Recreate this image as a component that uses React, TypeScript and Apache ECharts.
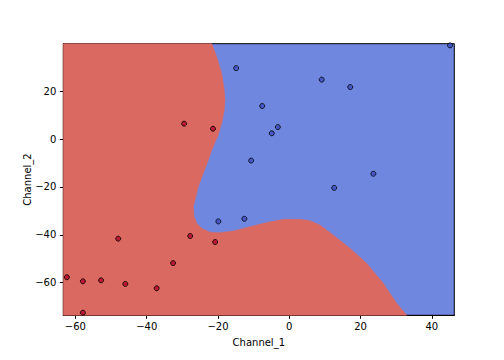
import React, { useEffect, useRef } from "react";
import * as echarts from "echarts";

// Axis extents (data units)
const X_MIN = -63.4;
const X_MAX = 46.3;
const Y_MIN = -73.6;
const Y_MAX = 39.8;
const TICKS_X = [-60, -40, -20, 0, 20, 40];
const TICKS_Y = [-60, -40, -20, 0, 20];

// Class 0 (red) samples
const redX = [-29.5, -21.4, -48.0, -27.8, -20.8, -32.6, -62.4, -57.9, -52.8, -46.0, -37.2, -57.9];
const redY = [6.4, 4.3, -41.6, -40.5, -43.0, -51.8, -57.7, -59.4, -59.0, -60.5, -62.3, -72.5];

// Class 1 (blue) samples
const blueX = [45.1, -14.9, 9.1, 17.1, -7.6, -3.2, -4.9, -10.7, 23.6, 12.6, -19.9, -12.6];
const blueY = [39.1, 29.6, 24.8, 21.7, 13.8, 5.0, 2.4, -9.0, -14.5, -20.4, -34.4, -33.3];

// Decision boundary (red region edge), from top edge to bottom edge
const boundaryX = [
  -21.76, -20.36, -18.96, -18.23, -18.03, -18.23, -18.96, -20.08, -20.55, -21.76,
  -22.71, -24.12, -25.52, -26.44, -26.92, -26.72, -25.97, -24.57, -22.24, -19.43,
  -15.7, -11.02, -6.34, -1.68, 3.0, 5.8, 8.6, 12.34, 17.02, 21.7, 26.36, 30.12, 32.73, 33.0,
];
const boundaryY = [
  39.8, 34.35, 27.4, 20.45, 16.3, 12.1, 6.55, 0.96, -0.42, -4.6,
  -8.76, -14.3, -19.9, -25.5, -28.3, -32.4, -35.2, -37.3, -38.9, -39.1,
  -38.4, -36.6, -34.9, -33.5, -33.5, -34.1, -35.9, -40.1, -45.6, -51.9, -60.2, -68.6, -73.2, -73.6,
];

const RED_FILL = "#d96961";
const BLUE_FILL = "#7087e0";
const RED_PT = "#b40426";
const BLUE_PT = "#3b4cc0";

const fmt = (v: number) => String(v).replace("-", "\u2212");

export default function App() {
  const ref = useRef<HTMLDivElement>(null);
  useEffect(() => {
    if (!ref.current) return;
    const chart = echarts.init(ref.current, undefined, { renderer: "svg" });
    const redPoly: number[][] = [[X_MIN, Y_MAX]];
    for (let i = 0; i < boundaryX.length; i++) redPoly.push([boundaryX[i], boundaryY[i]]);
    redPoly.push([X_MIN, Y_MIN]);

    const textStyle = { color: "#000", fontFamily: "DejaVu Sans", fontSize: 10 };
    chart.setOption({
      animation: false,
      textStyle: { fontFamily: "DejaVu Sans" },
      grid: {
        left: 63.3,
        right: 49.7,
        top: 43.7,
        bottom: 44.7,
        show: true,
        backgroundColor: BLUE_FILL,
        borderColor: "#000",
        borderWidth: 1,
        z: 0,
      },
      xAxis: {
        type: "value",
        min: X_MIN,
        max: X_MAX,
        name: "Channel_1",
        nameLocation: "middle",
        nameGap: 22,
        nameMoveOverlap: false,
        nameTextStyle: textStyle,
        splitLine: { show: false },
        axisLine: { show: true, onZero: false, lineStyle: { color: "#000", width: 1 } },
        axisTick: { show: true, length: 3.5, customValues: TICKS_X, lineStyle: { color: "#000" } },
        axisLabel: { ...textStyle, margin: 6, customValues: TICKS_X, formatter: (v: number) => fmt(v) },
      },
      yAxis: {
        type: "value",
        min: Y_MIN,
        max: Y_MAX,
        name: "Channel_2",
        nameLocation: "middle",
        nameGap: 31,
        nameMoveOverlap: false,
        nameRotate: 90,
        nameTextStyle: textStyle,
        splitLine: { show: false },
        axisLine: { show: true, onZero: false, lineStyle: { color: "#000", width: 1 } },
        axisTick: { show: true, length: 3.5, customValues: TICKS_Y, lineStyle: { color: "#000" } },
        axisLabel: { ...textStyle, margin: 7, customValues: TICKS_Y, formatter: (v: number) => fmt(v) },
      },
      series: [
        {
          type: "custom",
          z: 1,
          silent: true,
          data: [0],
          renderItem: (_params: any, api: any) => ({
            type: "polygon",
            shape: { points: redPoly.map((p) => api.coord(p)) },
            style: { fill: RED_FILL, stroke: RED_FILL, lineWidth: 0.5 },
          }),
        },
        {
          type: "scatter",
          z: 3,
          symbolSize: 5,
          itemStyle: { color: RED_PT, borderColor: "#000", borderWidth: 1 },
          data: redX.map((x, i) => [x, redY[i]]),
        },
        {
          type: "scatter",
          z: 3,
          symbolSize: 5,
          itemStyle: { color: BLUE_PT, borderColor: "#000", borderWidth: 1 },
          data: blueX.map((x, i) => [x, blueY[i]]),
        },
      ],
    });
    return () => chart.dispose();
  }, []);
  return <div ref={ref} style={{ width: 504, height: 360, position: "absolute", left: 0, top: 0 }} />;
}
